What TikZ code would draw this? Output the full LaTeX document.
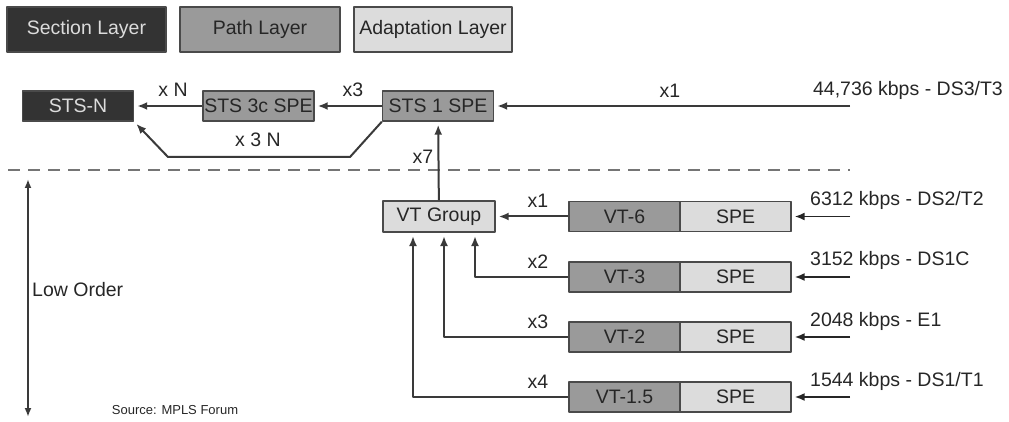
\documentclass[tikz,border=0pt]{standalone}
\usepackage{fontspec}
\setmainfont{Liberation Sans}
\usepackage{tikz}
\usetikzlibrary{arrows.meta}

\definecolor{secfill}{HTML}{333333}
\definecolor{pathfill}{HTML}{9A9A9A}
\definecolor{adaptfill}{HTML}{DCDCDC}
\definecolor{boxline}{HTML}{4A4A4A}
\definecolor{linegray}{HTML}{3A3A3A}
\definecolor{textgray}{HTML}{262626}

\tikzset{
  layerbox/.style={draw=boxline, line width=1.4pt, inner sep=0pt, text=textgray,
    minimum height=30pt, font=\fontsize{19.5}{22}\selectfont},
  sectbox/.style={layerbox, fill=secfill, text=adaptfill},
  pathbox/.style={layerbox, fill=pathfill},
  adaptbox/.style={layerbox, fill=adaptfill},
  conn/.style={draw=linegray, line width=2pt, shorten >=3pt,
    -{Latex[length=10pt,width=8pt]}},
  feed/.style={draw=black!85, line width=1.6pt, shorten >=3pt,
    -{Latex[length=10pt,width=8pt]}},
  lbl/.style={inner sep=0pt, text=textgray, font=\fontsize{19.5}{22}\selectfont}
}

\begin{document}
\begin{tikzpicture}[x=1pt, y=-1pt, line join=round]
      \useasboundingbox (0,0) rectangle (1009,422);
      \def\w{111}
      \def\h{30}

      % Legend
      \node[sectbox, minimum width=159pt, minimum height=45pt] (sect) at (86.5,29.5) {Section Layer};
      \node[pathbox, minimum width=160pt, minimum height=45pt] (pathl) at (260,29.5) {Path Layer};
      \node[adaptbox, minimum width=158pt, minimum height=45pt] (adapt) at (433,29.5) {Adaptation Layer};

      % High order row
      \node[sectbox, minimum width=\w pt] (stsn) at (78,106) {STS-N};
      \node[pathbox, minimum width=\w pt] (sts3c) at (258.5,106) {STS 3c SPE};
      \node[pathbox, minimum width=\w pt] (sts1) at (438,106) {STS 1 SPE};
      \coordinate (in44) at (850,106);
      \coordinate (bendR) at (350,157);
      \coordinate (bendL) at (168,157);

      \draw[conn] (in44) -- (sts1);
      \draw[conn] (sts1) -- (sts3c);
      \draw[conn] (sts3c) -- (stsn);
      \draw[conn] (sts1.south west) -- (bendR) -- (bendL) -- (stsn.south east);

      \node[lbl] (xn) at (173,90) {x N};
      \node[lbl] (x3a) at (353,90) {x3};
      \node[lbl] (x1a) at (670,91) {x1};
      \node[lbl] (x3n) at (258,140) {x 3 N};
      \node[lbl, anchor=east] (ds3) at (1003,90) {44,736 kbps - DS3/T3};

      % Divider
      \draw[linegray!70, line width=1.3pt, dash pattern=on 12pt off 8pt] (8,170) -- (850,170);

      % Low order part
      \node[adaptbox, minimum width=112pt, minimum height=31pt] (vtg) at (439,216.5) {VT Group};
      \draw[conn] (vtg) -- (sts1);
      \node[lbl] (x7) at (423,157) {x7};

      \node[pathbox, minimum width=\w pt] (vt6) at (624.5,216.5) {VT-6};
      \node[adaptbox, minimum width=\w pt] (spe6) at (735.5,216.5) {SPE};
      \node[pathbox, minimum width=\w pt] (vt3) at (624.5,277) {VT-3};
      \node[adaptbox, minimum width=\w pt] (spe3) at (735.5,277) {SPE};
      \node[pathbox, minimum width=\w pt] (vt2) at (624.5,337) {VT-2};
      \node[adaptbox, minimum width=\w pt] (spe2) at (735.5,337) {SPE};
      \node[pathbox, minimum width=\w pt] (vt15) at (624.5,397) {VT-1.5};
      \node[adaptbox, minimum width=\w pt] (spe15) at (735.5,397) {SPE};

      % Arrow ends below the VT group
      \coordinate (up3) at (475,236);
      \coordinate (up2) at (444,236);
      \coordinate (up15) at (413,236);

      \draw[conn] (vt6) -- (vtg);
      \draw[conn, shorten >=0pt] (vt3.west) -| (up3);
      \draw[conn, shorten >=0pt] (vt2.west) -| (up2);
      \draw[conn, shorten >=0pt] (vt15.west) -| (up15);

      \node[lbl] (x1b) at (538,201) {x1};
      \node[lbl] (x2b) at (538,262) {x2};
      \node[lbl] (x3b) at (538,322) {x3};
      \node[lbl] (x4b) at (538,382) {x4};

      % Inputs
      \coordinate (in6) at (850,216.5);
      \coordinate (in3) at (850,277);
      \coordinate (in2) at (850,337);
      \coordinate (in15) at (850,397);
      \draw[feed] (in6) -- (spe6);
      \draw[feed] (in3) -- (spe3);
      \draw[feed] (in2) -- (spe2);
      \draw[feed] (in15) -- (spe15);

      \node[lbl, anchor=west] (ds2) at (810,200) {6312 kbps - DS2/T2};
      \node[lbl, anchor=west] (ds1c) at (810,260) {3152 kbps - DS1C};
      \node[lbl, anchor=west] (e1) at (810,321) {2048 kbps - E1};
      \node[lbl, anchor=west] (ds1) at (810,381) {1544 kbps - DS1/T1};

      % Low order extent
      \coordinate (lotop) at (28,179);
      \coordinate (lobot) at (28,417);
      \draw[draw=linegray, line width=1.8pt, {Latex[length=9pt,width=7pt]}-{Latex[length=9pt,width=7pt]}] (lotop) -- (lobot);
      \node[lbl, anchor=west] (low) at (32,290) {Low Order};
      \node[lbl, font=\fontsize{13}{15}\selectfont] (src) at (175,410) {Source: MPLS Forum};
\end{tikzpicture}
\end{document}
